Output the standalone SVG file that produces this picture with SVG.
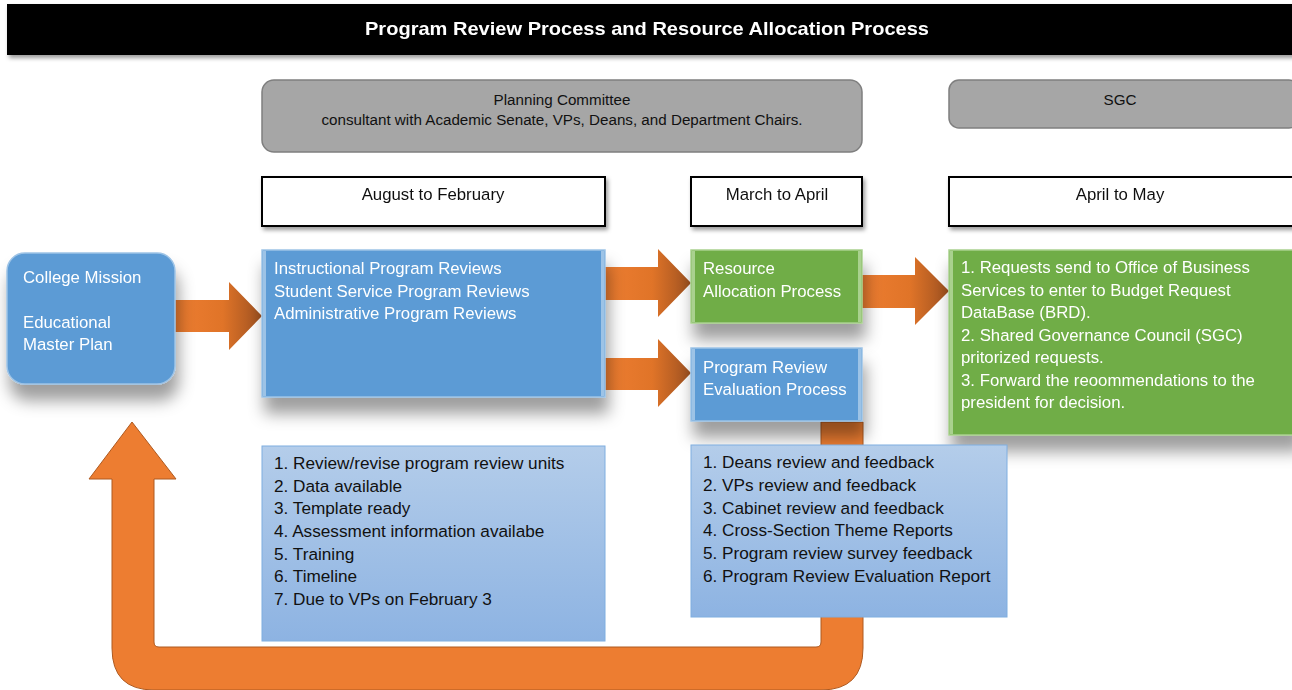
<svg xmlns="http://www.w3.org/2000/svg" width="1292" height="690" viewBox="0 0 1292 690">
<defs>
<style>
text{font-family:"Liberation Sans",Arial,sans-serif}
.w{fill:#fff;font-size:16.8px}
.d{fill:#111;font-size:16.8px}
.l{fill:#111;font-size:17.2px}
.g{fill:#111;font-size:15.2px}
.blue{fill:#5b9bd5;stroke:#9dc3e6;stroke-width:1.5}
.green{fill:#70ad47;stroke:#a9d18e;stroke-width:1.5}
.gray{fill:#a6a6a6;stroke:#7f7f7f;stroke-width:1.5}
.hdr{fill:#fff;stroke:#000;stroke-width:2}
.arr{fill:#ed7d31;stroke:#ae5a21;stroke-width:1}
.list{fill:url(#lg);stroke:#7faee0;stroke-width:1}
</style>
<linearGradient id="lg" x1="0" y1="0" x2="0" y2="1">
<stop offset="0" stop-color="#b4cdea"/>
<stop offset="1" stop-color="#8db3e2"/>
</linearGradient>
<linearGradient id="ah" x1="0" y1="0" x2="1" y2="0">
<stop offset="0" stop-color="#ed7d31"/>
<stop offset="0.55" stop-color="#e07428"/>
<stop offset="1" stop-color="#9e5120"/>
</linearGradient>
<filter id="sh" x="-20%" y="-20%" width="140%" height="170%">
<feGaussianBlur in="SourceAlpha" stdDeviation="8"/>
<feOffset dx="3" dy="16" result="b"/>
<feFlood flood-color="#000" flood-opacity="0.38"/>
<feComposite in2="b" operator="in"/>
<feMerge><feMergeNode/><feMergeNode in="SourceGraphic"/></feMerge>
</filter>
<filter id="sh2" x="-10%" y="-20%" width="120%" height="160%">
<feGaussianBlur in="SourceAlpha" stdDeviation="2"/>
<feOffset dx="2" dy="3" result="b"/>
<feFlood flood-color="#000" flood-opacity="0.4"/>
<feComposite in2="b" operator="in"/>
<feMerge><feMergeNode/><feMergeNode in="SourceGraphic"/></feMerge>
</filter>
</defs>

<g id="title" filter="url(#sh2)">
<rect x="7" y="4" width="1290" height="51" fill="#000"/>
<text x="647" y="35" text-anchor="middle" fill="#fff" font-weight="bold" font-size="19" textLength="564" lengthAdjust="spacingAndGlyphs">Program Review Process and Resource Allocation Process</text>
</g>

<g id="planning-committee">
<rect class="gray" x="262" y="80" width="600" height="72" rx="12"/>
<text class="g" x="562" y="105" text-anchor="middle">Planning Committee</text>
<text class="g" x="562" y="125" text-anchor="middle">consultant with Academic Senate, VPs, Deans, and Department Chairs.</text>
</g>

<g id="sgc">
<rect class="gray" x="949" y="80" width="350" height="48" rx="10"/>
<text class="g" x="1120" y="105" text-anchor="middle">SGC</text>
</g>

<g id="aug-feb" filter="url(#sh2)">
<rect class="hdr" x="262" y="177" width="343" height="49"/>
<text class="d" x="433" y="200" text-anchor="middle">August to February</text>
</g>
<g id="mar-apr" filter="url(#sh2)">
<rect class="hdr" x="691" y="177" width="171" height="49"/>
<text class="d" x="777" y="200" text-anchor="middle">March to April</text>
</g>
<g id="apr-may" filter="url(#sh2)">
<rect class="hdr" x="949" y="177" width="350" height="49"/>
<text class="d" x="1120" y="200" text-anchor="middle">April to May</text>
</g>

<g id="connectors">
<path class="arr" d="M821 422 L863 422 L863 648 Q863 690 821 690 L154 690 Q112 690 112 648 L112 479 L89 479 L132 422 L176 479 L154 479 L154 642 Q154 647 159 647 L816 647 Q821 647 821 642 Z"/>
<path d="M175 300 L229 300 L229 282 L262 316 L229 350 L229 332 L175 332 Z" fill="url(#ah)"/>
<path d="M605 267 L658 267 L658 249 L691 283 L658 317 L658 300 L605 300 Z" fill="url(#ah)"/>
<path d="M605 358 L658 358 L658 339 L691 373 L658 407 L658 390 L605 390 Z" fill="url(#ah)"/>
<path d="M862 275 L915 275 L915 257 L949 291 L915 325 L915 308 L862 308 Z" fill="url(#ah)"/>
</g>

<g id="college-mission" filter="url(#sh)">
<rect class="blue" x="7" y="253" width="168" height="131" rx="18"/>
<text class="w" x="23" y="283">College Mission</text>
<text class="w" x="23" y="328">Educational</text>
<text class="w" x="23" y="350">Master Plan</text>
</g>

<g id="program-reviews" filter="url(#sh)">
<rect class="blue" x="262" y="250" width="343" height="147"/>
<rect x="263" y="251" width="3" height="145" fill="#9dc3e6"/>
<rect x="601" y="251" width="3" height="145" fill="#9dc3e6"/>
<text class="w" x="274" y="274">Instructional Program Reviews</text>
<text class="w" x="274" y="297">Student Service Program Reviews</text>
<text class="w" x="274" y="319">Administrative Program Reviews</text>
</g>

<g id="resource-allocation" filter="url(#sh)">
<rect class="green" x="691" y="250" width="171" height="73"/>
<rect x="692" y="251" width="3" height="71" fill="#a9d18e"/>
<rect x="858" y="251" width="3" height="71" fill="#a9d18e"/>
<text class="w" x="703" y="274">Resource</text>
<text class="w" x="703" y="297">Allocation Process</text>
</g>

<g id="program-review-evaluation" filter="url(#sh)">
<rect class="blue" x="691" y="348" width="171" height="73"/>
<rect x="692" y="349" width="3" height="71" fill="#9dc3e6"/>
<rect x="858" y="349" width="3" height="71" fill="#9dc3e6"/>
<text class="w" x="703" y="373">Program Review</text>
<text class="w" x="703" y="395">Evaluation Process</text>
</g>

<g id="sgc-steps" filter="url(#sh)">
<rect class="green" x="949" y="250" width="350" height="185"/>
<rect x="950" y="251" width="3" height="183" fill="#a9d18e"/>
<text class="w" x="961" y="273">1. Requests send to Office of Business</text>
<text class="w" x="961" y="296">Services to enter to Budget Request</text>
<text class="w" x="961" y="318">DataBase (BRD).</text>
<text class="w" x="961" y="341">2. Shared Governance Council (SGC)</text>
<text class="w" x="961" y="363">pritorized requests.</text>
<text class="w" x="961" y="386">3. Forward the reoommendations to the</text>
<text class="w" x="961" y="408">president for decision.</text>
</g>

<g id="review-steps">
<rect class="list" x="262" y="446" width="343" height="195"/>
<text class="l" x="274" y="469">1. Review/revise program review units</text>
<text class="l" x="274" y="492">2. Data available</text>
<text class="l" x="274" y="514">3. Template ready</text>
<text class="l" x="274" y="537">4. Assessment information availabe</text>
<text class="l" x="274" y="560">5. Training</text>
<text class="l" x="274" y="582">6. Timeline</text>
<text class="l" x="274" y="605">7. Due to VPs on February 3</text>
</g>

<g id="evaluation-steps">
<rect class="list" x="691" y="445" width="316" height="172"/>
<text class="l" x="703" y="468">1. Deans review and feedback</text>
<text class="l" x="703" y="491">2. VPs review and feedback</text>
<text class="l" x="703" y="514">3. Cabinet review and feedback</text>
<text class="l" x="703" y="536">4. Cross-Section Theme Reports</text>
<text class="l" x="703" y="559">5. Program review survey feedback</text>
<text class="l" x="703" y="582">6. Program Review Evaluation Report</text>
</g>
</svg>
